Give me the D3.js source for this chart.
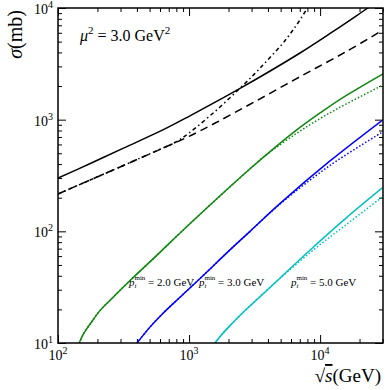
<!DOCTYPE html>
<html>
<head>
<meta charset="utf-8">
<script src="https://cdn.jsdelivr.net/npm/d3@7.9.0/dist/d3.min.js"></script>
<style>
  html, body { margin: 0; padding: 0; background: #fff; }
  svg { display: block; font-family: "Liberation Serif", "DejaVu Serif", serif; }
</style>
</head>
<body>
<div id="chart"></div>
<script>
// sqrt(s) in GeV, sigma in mb
const totalSolid = [[100, 300], [178, 407], [316, 556], [631, 809], [1000, 1072], [2450, 1905],
  [7030, 3954], [12590, 6166], [23200, 10000], [30200, 12300]];
const totalDashed = [[100, 216], [316, 389], [716, 593], [1000, 708], [1585, 933], [3162, 1445],
  [7030, 2427], [15850, 4074], [30200, 6353]];
const totalDashDot = [[100, 216], [316, 389], [562, 525], [794, 631], [1000, 760], [1585, 1190],
  [2370, 1845], [3162, 2570], [3981, 3428], [5250, 4898], [7080, 7943], [10000, 15850]];

const green = [[145, 10], [158, 12.3], [178, 15.1], [209, 19.5], [251, 24.3], [355, 36.3],
  [562, 60.3], [1000, 115], [2920, 363], [4467, 556], [6670, 813], [10000, 1148], [14125, 1514],
  [30200, 2570]];
const greenDot = [[145, 10], [158, 12.3], [178, 15.1], [209, 19.5], [251, 24.3], [355, 36.3],
  [562, 60.3], [1000, 115], [2920, 363], [3981, 495], [6670, 759], [10000, 1023], [14125, 1288],
  [30200, 2042]];
const blue = [[401, 10], [501, 13.8], [631, 18.4], [853, 25.7], [1259, 39.4], [1995, 66.1],
  [2920, 100], [4955, 178], [11900, 427], [30000, 993]];
const blueDot = [[401, 10], [501, 13.8], [631, 18.4], [853, 25.7], [1259, 39.4], [1995, 66.1],
  [2920, 100], [4955, 176], [11900, 389], [30000, 776]];
const cyan = [[1578, 10], [1778, 11.9], [1995, 13.8], [2512, 18.2], [3670, 27.5], [8400, 68.1],
  [15850, 132], [30000, 246]];
const cyanDot = [[1578, 10], [1778, 11.9], [1995, 13.8], [2512, 18.2], [3981, 30.2], [8400, 64.6],
  [15850, 115], [30000, 204]];

const xMajor = [100, 1000, 10000];
const yMajor = [10, 100, 1000, 10000];
const ptLabels = [{ v: '2.0', at: 129 }, { v: '3.0', at: 199 }, { v: '5.0', at: 291 }];

const width = 390, height = 390;
const margin = { top: 8, right: 7, bottom: 47, left: 58 };

const svg = d3.select('#chart').append('svg')
  .attr('width', width).attr('height', height);

const x = d3.scaleLog().domain([100, 30200]).range([margin.left, width - margin.right]);
const y = d3.scaleLog().domain([10, 10000]).range([height - margin.bottom, margin.top]);

const minorOf = (lo, hi) => {
  const out = [];
  for (let d = lo; d < hi; d *= 10)
    for (let k = 2; k <= 9; k++) if (d * k <= hi) out.push(d * k);
  return out;
};
const xMinor = minorOf(100, 30000);
const yMinor = minorOf(10, 10000);

svg.append('clipPath').attr('id', 'clip').append('rect')
  .attr('x', margin.left).attr('y', margin.top)
  .attr('width', x.range()[1] - margin.left)
  .attr('height', y.range()[0] - margin.top);

// Ticks on all four sides, pointing in
function ticks(axis, vals, size, tr) {
  const g = svg.append('g').attr('transform', tr)
    .call(axis.tickValues(vals).tickSize(-size).tickFormat(''));
  g.select('.domain').remove();
  g.selectAll('line').attr('stroke', '#000').attr('stroke-width', 1);
}
const bottom = height - margin.bottom, right = width - margin.right;
ticks(d3.axisBottom(x), xMajor, 8, `translate(0,${bottom})`);
ticks(d3.axisBottom(x), xMinor, 4, `translate(0,${bottom})`);
ticks(d3.axisTop(x), xMajor, 8, `translate(0,${margin.top})`);
ticks(d3.axisTop(x), xMinor, 4, `translate(0,${margin.top})`);
ticks(d3.axisLeft(y), yMajor, 8, `translate(${margin.left},0)`);
ticks(d3.axisLeft(y), yMinor, 4, `translate(${margin.left},0)`);
ticks(d3.axisRight(y), yMajor, 8, `translate(${right},0)`);
ticks(d3.axisRight(y), yMinor, 4, `translate(${right},0)`);

// Curves
const line = d3.line().x(d => x(d[0])).y(d => y(d[1])).curve(d3.curveCatmullRom.alpha(0.5));
const curves = svg.append('g').attr('clip-path', 'url(#clip)').attr('fill', 'none');
const draw = (data, color, dash, w = 1.5) => curves.append('path')
  .attr('d', line(data)).attr('stroke', color).attr('stroke-width', w)
  .attr('stroke-dasharray', dash);

draw(totalSolid, '#000', null);
draw(totalDashed, '#000', '8,5');
draw(totalDashDot, '#000', '4,3,1.5,3');
draw(greenDot, '#0f870f', '1.5,2');
draw(green, '#0f870f', null);
draw(blueDot, '#0000ff', '1.5,2');
draw(blue, '#0000ff', null);
draw(cyanDot, '#00c0c0', '1.5,2');
draw(cyan, '#00c0c0', null);

// Frame
svg.append('rect')
  .attr('x', margin.left).attr('y', margin.top)
  .attr('width', right - margin.left).attr('height', bottom - margin.top)
  .attr('fill', 'none').attr('stroke', '#000').attr('stroke-width', 1.5);

// Tick labels with powers of ten
const pow = v => Math.round(Math.log10(v));
yMajor.forEach(v => {
  const t = svg.append('text').attr('x', margin.left - 5).attr('y', y(v) + 6)
    .attr('text-anchor', 'end').attr('font-size', 14);
  t.append('tspan').text('10');
  t.append('tspan').attr('dy', -6).attr('font-size', 10).text(pow(v));
});
xMajor.forEach(v => {
  const t = svg.append('text').attr('x', x(v)).attr('y', bottom + 17)
    .attr('text-anchor', 'middle').attr('font-size', 14);
  t.append('tspan').text('10');
  t.append('tspan').attr('dy', -6).attr('font-size', 10).text(pow(v));
});

// Axis titles
svg.append('text')
  .attr('transform', `translate(22,${margin.top + 2}) rotate(-90)`)
  .attr('text-anchor', 'end').attr('font-size', 20)
  .call(t => {
    t.append('tspan').attr('font-style', 'italic').text('σ');
    t.append('tspan').text('(mb)');
  });

svg.append('text').attr('x', right - 2).attr('y', 382)
  .attr('text-anchor', 'end').attr('font-size', 19)
  .call(t => {
    t.append('tspan').text('√');
    t.append('tspan').attr('font-style', 'italic')
      .style('text-decoration', 'overline').text('s');
    t.append('tspan').text('(GeV)');
  });

// Scale annotation
svg.append('text').attr('x', 80).attr('y', 41).attr('font-size', 16)
  .call(t => {
    t.append('tspan').attr('font-style', 'italic').text('μ');
    t.append('tspan').attr('dy', -7).attr('font-size', 11).text('2');
    t.append('tspan').attr('dy', 7).text(' = 3.0 GeV');
    t.append('tspan').attr('dy', -7).attr('font-size', 11).text('2');
  });

// p_t^min labels
ptLabels.forEach(p => {
  svg.append('text').attr('x', p.at).attr('y', 286).attr('font-size', 11)
    .call(t => {
      t.append('tspan').attr('font-style', 'italic').text('p');
      t.append('tspan').attr('font-style', 'italic').attr('font-size', 7).attr('dy', 2).text('t');
      t.append('tspan').attr('font-size', 7).attr('dx', -2).attr('dy', -8).text('min');
      t.append('tspan').attr('dy', 6).text(` = ${p.v} GeV`);
    });
});
</script>
</body>
</html>
